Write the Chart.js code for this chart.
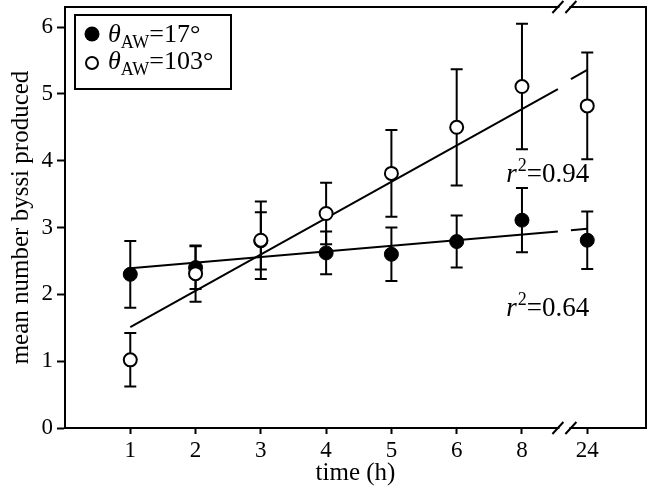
<!DOCTYPE html>
<html>
<head>
<meta charset="utf-8">
<script src="https://cdn.jsdelivr.net/npm/chart.js@4/dist/chart.umd.min.js"></script>
<style>
  html, body { margin: 0; padding: 0; background: #fff; }
  canvas { display: block; }
</style>
</head>
<body>
<canvas id="byssi-chart" width="647" height="488"></canvas>
<script>
"use strict";
// tick labels for time (h) and where they sit on the (broken) axis
const timeLabels = ["1", "2", "3", "4", "5", "6", "8", "24"];
const timePos = [1, 2, 3, 4, 5, 6, 7, 8];
// theta_AW = 17 deg (filled)
const meanLow = [2.3, 2.4, 2.8, 2.62, 2.6, 2.79, 3.11, 2.81];
const errLow = [0.5, 0.32, 0.43, 0.32, 0.4, 0.39, 0.48, 0.43];
// theta_AW = 103 deg (open)
const meanHigh = [1.02, 2.31, 2.81, 3.21, 3.81, 4.5, 5.11, 4.82];
const errHigh = [0.4, 0.42, 0.58, 0.46, 0.65, 0.87, 0.94, 0.8];
// regression lines, read at their ends (split at the axis break)
const fitX = [1, 7.55];
const fitXAfter = [7.75, 8];
const fitLow = [2.39, 2.94];
const fitLowAfter = [2.96, 2.98];
const fitHigh = [1.51, 5.07];
const fitHighAfter = [5.22, 5.36];
const rSquared = ["0.94", "0.64"];
const rSquaredAt = [3.68, 1.67]; // y value of the label baseline

const FONT = "'Liberation Serif', 'Times New Roman', serif";
const BREAK_AT = 7.65;

function toPoints(xs, ys) {
    return xs.map((x, i) => ({ x: x, y: ys[i] }));
}

function fitDataset(xs, ys) {
    return {
        type: "line",
        data: toPoints(xs, ys),
        borderColor: "#000",
        borderWidth: 2,
        pointRadius: 0,
        fill: false,
        order: 3
    };
}

// error bars go under the points
const errorBars = {
    id: "errorBars",
    beforeDatasetsDraw(chart) {
        const ctx = chart.ctx;
        const y = chart.scales.y;
        ctx.save();
        ctx.strokeStyle = "#000";
        ctx.lineWidth = 2;
        chart.data.datasets.forEach((ds, i) => {
            if (!ds.errors) return;
            const meta = chart.getDatasetMeta(i);
            meta.data.forEach((pt, j) => {
                const v = ds.data[j].y;
                const top = y.getPixelForValue(v + ds.errors[j]);
                const bot = y.getPixelForValue(v - ds.errors[j]);
                ctx.beginPath();
                ctx.moveTo(pt.x, top);
                ctx.lineTo(pt.x, bot);
                ctx.moveTo(pt.x - 6, top);
                ctx.lineTo(pt.x + 6, top);
                ctx.moveTo(pt.x - 6, bot);
                ctx.lineTo(pt.x + 6, bot);
                ctx.stroke();
            });
        });
        ctx.restore();
    }
};

// frame, axis break marks, legend and r^2 notes
const decorations = {
    id: "decorations",
    afterDraw(chart) {
        const ctx = chart.ctx;
        const a = chart.chartArea;
        const x = chart.scales.x;
        const y = chart.scales.y;
        ctx.save();
        ctx.strokeStyle = "#000";
        ctx.lineWidth = 2;
        ctx.beginPath();
        ctx.moveTo(a.left, a.top);
        ctx.lineTo(a.right, a.top);
        ctx.lineTo(a.right, a.bottom);
        ctx.stroke();

        const bx = x.getPixelForValue(BREAK_AT);
        [a.top, a.bottom].forEach((ly) => {
            ctx.fillStyle = "#fff";
            ctx.fillRect(bx - 5, ly - 2, 10, 4);
            ctx.beginPath();
            ctx.moveTo(bx - 12, ly + 6);
            ctx.lineTo(bx - 1, ly - 6);
            ctx.moveTo(bx + 1, ly + 6);
            ctx.lineTo(bx + 12, ly - 6);
            ctx.stroke();
        });

        // legend
        const lx = a.left + 10, ly = a.top + 8;
        ctx.lineWidth = 2;
        ctx.strokeRect(lx, ly, 156, 74);
        ctx.fillStyle = "#000";
        ctx.beginPath();
        ctx.arc(lx + 17, ly + 19, 7.5, 0, Math.PI * 2);
        ctx.fill();
        ctx.fillStyle = "#fff";
        ctx.beginPath();
        ctx.arc(lx + 17, ly + 48, 6, 0, Math.PI * 2);
        ctx.fill();
        ctx.stroke();
        ctx.fillStyle = "#000";
        ctx.textBaseline = "alphabetic";
        ctx.textAlign = "left";
        [["17°", ly + 27], ["103°", ly + 54]].forEach(([val, base]) => {
            let tx = lx + 33;
            ctx.font = "italic 26px " + FONT;
            ctx.fillText("θ", tx, base);
            tx += ctx.measureText("θ").width;
            ctx.font = "18px " + FONT;
            ctx.fillText("AW", tx, base + 6);
            tx += ctx.measureText("AW").width;
            ctx.font = "26px " + FONT;
            ctx.fillText("=" + val, tx, base);
        });

        // r^2 labels
        rSquared.forEach((txt, i) => {
            let tx = x.getPixelForValue(6.76);
            const base = y.getPixelForValue(rSquaredAt[i]);
            ctx.font = "italic 27px " + FONT;
            ctx.fillText("r", tx, base);
            tx += ctx.measureText("r").width + 1;
            ctx.font = "18px " + FONT;
            ctx.fillText("2", tx, base - 11);
            tx += ctx.measureText("2").width;
            ctx.font = "27px " + FONT;
            ctx.fillText("=" + txt, tx, base);
        });
        ctx.restore();
    }
};

new Chart(document.getElementById("byssi-chart"), {
    type: "scatter",
    data: {
        datasets: [
            fitDataset(fitX, fitLow),
            fitDataset(fitXAfter, fitLowAfter),
            fitDataset(fitX, fitHigh),
            fitDataset(fitXAfter, fitHighAfter),
            {
                label: "θAW=17°",
                data: toPoints(timePos, meanLow),
                errors: errLow,
                backgroundColor: "#000",
                borderColor: "#000",
                borderWidth: 1,
                pointRadius: 7,
                order: 2
            },
            {
                label: "θAW=103°",
                data: toPoints(timePos, meanHigh),
                errors: errHigh,
                backgroundColor: "#fff",
                borderColor: "#000",
                borderWidth: 2,
                pointRadius: 6.5,
                order: 1
            }
        ]
    },
    options: {
        responsive: false,
        animation: false,
        devicePixelRatio: 1,
        layout: { autoPadding: false, padding: { top: 7, right: 1, left: 0, bottom: 0 } },
        plugins: {
            legend: { display: false },
            tooltip: { enabled: false }
        },
        scales: {
            x: {
                type: "linear",
                min: 0,
                max: 8.9,
                afterBuildTicks: (s) => { s.ticks = timePos.map(v => ({ value: v })); },
                afterFit: (s) => { s.height = 60; s.paddingLeft = 0; s.paddingRight = 0; },
                ticks: {
                    autoSkip: false,
                    maxRotation: 0,
                    padding: 3,
                    color: "#000",
                    font: { family: FONT, size: 23 },
                    callback: (v) => timeLabels[timePos.indexOf(v)]
                },
                grid: { drawOnChartArea: false, tickLength: 6, tickColor: "#000", tickWidth: 2 },
                border: { display: true, color: "#000", width: 2 },
                title: {
                    display: true,
                    text: "time (h)",
                    color: "#000",
                    font: { family: FONT, size: 25 },
                    padding: { top: 0, bottom: 0 }
                }
            },
            y: {
                min: 0,
                max: 6.3,
                afterBuildTicks: (s) => { s.ticks = [0, 1, 2, 3, 4, 5, 6].map(v => ({ value: v })); },
                afterFit: (s) => { s.width = 65; s.paddingTop = 0; s.paddingBottom = 0; },
                ticks: {
                    padding: 4,
                    color: "#000",
                    font: { family: FONT, size: 23 }
                },
                grid: { drawOnChartArea: false, tickLength: 8, tickColor: "#000", tickWidth: 2 },
                border: { display: true, color: "#000", width: 2 },
                title: {
                    display: true,
                    text: "mean number byssi produced",
                    color: "#000",
                    font: { family: FONT, size: 25 },
                    padding: { top: 6, bottom: 0 }
                }
            }
        }
    },
    plugins: [errorBars, decorations]
});
</script>
</body>
</html>
